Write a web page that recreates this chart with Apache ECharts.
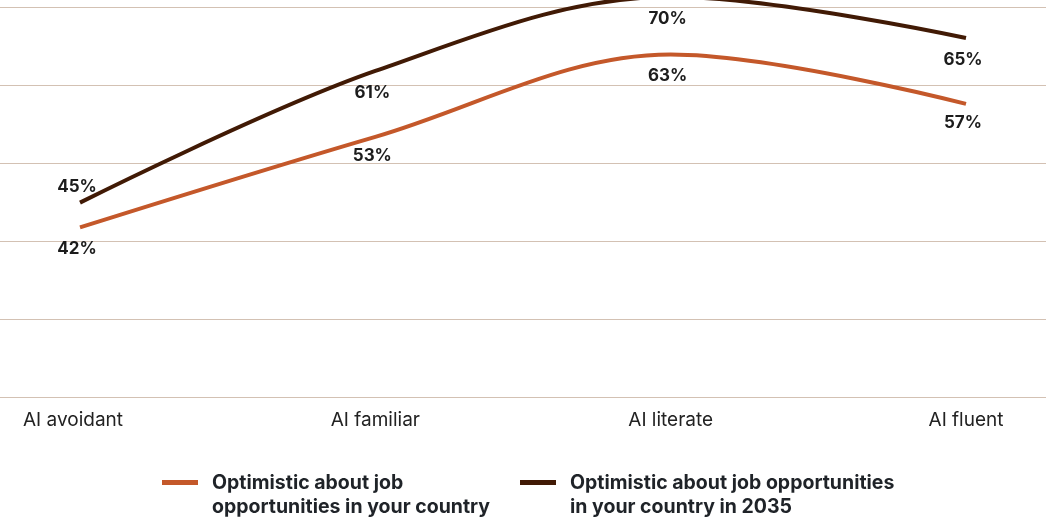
<!DOCTYPE html>
<html>
<head>
<meta charset="utf-8">
<script src="https://cdn.jsdelivr.net/npm/echarts@6/dist/echarts.min.js"></script>
<style>
html,body{margin:0;padding:0;background:#fff;}
#c{width:1046px;height:522px;}
</style>
</head>
<body>
<div id="c"></div>
<script>
var categories = ['AI avoidant', 'AI familiar', 'AI literate', 'AI fluent'];
var seriesNames = ['Optimistic about job opportunities in your country', 'Optimistic about job opportunities in your country in 2035'];
var legendLabels = ['Optimistic about job\nopportunities in your country', 'Optimistic about job opportunities\nin your country in 2035'];
var optimisticNow = [42, 53, 63, 57];
var optimistic2035 = [45, 61, 70, 65];
var gridTicks = [20, 30, 40, 50, 60, 70];

var ORANGE = '#C4582A';
var DARK = '#411A05';
var labelFont = {fontFamily: 'Inter', fontSize: 17, fontWeight: 'bold', color: '#1c1c1c'};

function labelled(values, positions, dist) {
  return values.map(function (v, i) {
    return {value: v, label: Object.assign({show: true, position: positions[i], distance: dist[i], offset: [-3, 0], formatter: '{c}%'}, labelFont)};
  });
}

var chart = echarts.init(document.getElementById('c'), null, {renderer: 'canvas'});
var legendIcon = 'path://M0,0L0.01,0M0,9H36V14H0ZM0,48L0.01,48';
var legendText = {fontFamily: 'Inter', fontSize: 19.5, fontWeight: 'bold', color: '#1f2328', lineHeight: 24, padding: [0, 0, 0, 9]};
var axisFont = {fontFamily: 'Inter', fontSize: 19, color: '#222'};
chart.setOption({
  animation: false,
  grid: [
    {left: 0, right: 0, top: 7, height: 390},
    {left: 80, right: 80, top: 7, height: 390}
  ],
  xAxis: [
    {gridIndex: 0, type: 'value', min: 0, max: 1, show: false},
    {gridIndex: 1, type: 'category', data: categories, boundaryGap: false,
     axisLine: {show: false}, axisTick: {show: false}, splitLine: {show: false},
     axisLabel: Object.assign({margin: 14,
       formatter: function (v, i) { return i === 0 ? '{a|' + v + '}' : v; },
       rich: {a: Object.assign({padding: [0, 14, 0, 0]}, axisFont)}}, axisFont)}
  ],
  yAxis: [
    {gridIndex: 0, type: 'value', min: gridTicks[0], max: gridTicks[gridTicks.length - 1], interval: 10,
     axisLabel: {show: false}, axisLine: {show: false}, axisTick: {show: false},
     splitLine: {show: true, lineStyle: {color: '#D3C1B3', width: 1.2}}},
    {gridIndex: 1, type: 'value', min: 21.39, max: 68.77, show: false, splitLine: {show: false}}
  ],
  legend: [
    {data: [seriesNames[0]], left: 162, top: 471, padding: 0, icon: legendIcon, itemWidth: 36, itemHeight: 48,
     formatter: function () { return legendLabels[0]; }, textStyle: legendText},
    {data: [seriesNames[1]], left: 520, top: 471, padding: 0, icon: legendIcon, itemWidth: 36, itemHeight: 48,
     formatter: function () { return legendLabels[1]; }, textStyle: legendText}
  ],
  series: [
    {name: seriesNames[0], type: 'line', xAxisIndex: 1, yAxisIndex: 1, smooth: 0.35, clip: false,
     symbol: 'circle', symbolSize: 0.1, showSymbol: true,
     itemStyle: {color: ORANGE}, lineStyle: {color: ORANGE, width: 4},
     data: labelled(optimisticNow, ['bottom', 'bottom', 'bottom', 'bottom'], [13, 11, 13, 10])},
    {name: seriesNames[1], type: 'line', xAxisIndex: 1, yAxisIndex: 1, smooth: 0.35, clip: false,
     symbol: 'circle', symbolSize: 0.1, showSymbol: true,
     itemStyle: {color: DARK}, lineStyle: {color: DARK, width: 4},
     data: labelled(optimistic2035, ['top', 'bottom', 'bottom', 'bottom'], [7, 13, 13, 13])}
  ]
});
</script>
</body>
</html>
